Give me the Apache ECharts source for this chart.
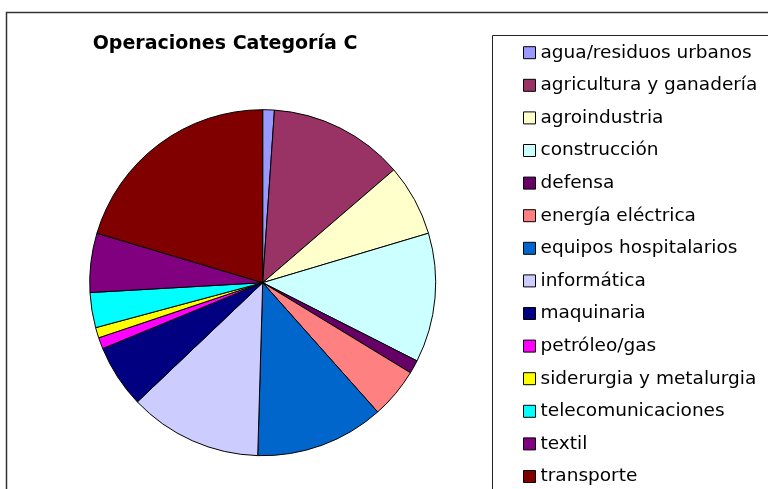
<!DOCTYPE html>
<html>
<head>
<meta charset="utf-8">
<script src="https://cdn.jsdelivr.net/npm/echarts@6/dist/echarts.min.js"></script>
<style>
html,body{margin:0;padding:0;background:#fff;}
#main{width:768px;height:489px;}
</style>
</head>
<body>
<div id="main"></div>
<script>
const categories = ["agua/residuos urbanos","agricultura y ganadería","agroindustria","construcción","defensa","energía eléctrica","equipos hospitalarios","informática","maquinaria","petróleo/gas","siderurgia y metalurgia","telecomunicaciones","textil","transporte"];
const values = [3.9, 45.4, 24.1, 43.5, 4.5, 17.0, 43.3, 44.8, 21.2, 3.8, 3.5, 11.8, 19.9, 73.4];
const colors = ["#9999FF","#993366","#FFFFCC","#CCFFFF","#660066","#FF8080","#0066CC","#CCCCFF","#000080","#FF00FF","#FFFF00","#00FFFF","#800080","#800000"];
const titleText = "Operaciones Categoría C";

const chart = echarts.init(document.getElementById('main'), null, {renderer:'canvas'});
const data = categories.map((c,i)=>({name:c, value:values[i], itemStyle:{color:colors[i]}}));
chart.setOption({
  animation:false,
  backgroundColor:'#fff',
  title:{
    text:titleText,
    left:220, top:30, textAlign:'center',
    textStyle:{fontFamily:'DejaVu Sans', fontSize:19, fontWeight:'bold', color:'#000'}
  },
  graphic:[
    {type:'rect', shape:{x:6.5,y:12.5,width:800,height:520}, style:{fill:null, stroke:'#333', lineWidth:1.5}, silent:true, z:-1},
    {type:'rect', shape:{x:492.5,y:35.5,width:400,height:520}, style:{fill:null, stroke:'#222', lineWidth:1}, silent:true, z:-1}
  ],
  legend:{
    orient:'vertical',
    left:518, top:37.7, height:600,
    itemWidth:12, itemHeight:12, itemGap:12.6,
    icon:'rect',
    itemStyle:{borderColor:'#000', borderWidth:1},
    textStyle:{fontFamily:'DejaVu Sans', fontSize:18.5, color:'#000', lineHeight:20},
    data:categories
  },
  series:[{
    type:'pie',
    center:[262.7,282.7],
    radius:173,
    startAngle:90,
    clockwise:true,
    label:{show:false},
    labelLine:{show:false},
    emphasis:{disabled:true},
    itemStyle:{borderColor:'#000', borderWidth:1},
    data:data
  }]
});
</script>
</body>
</html>
